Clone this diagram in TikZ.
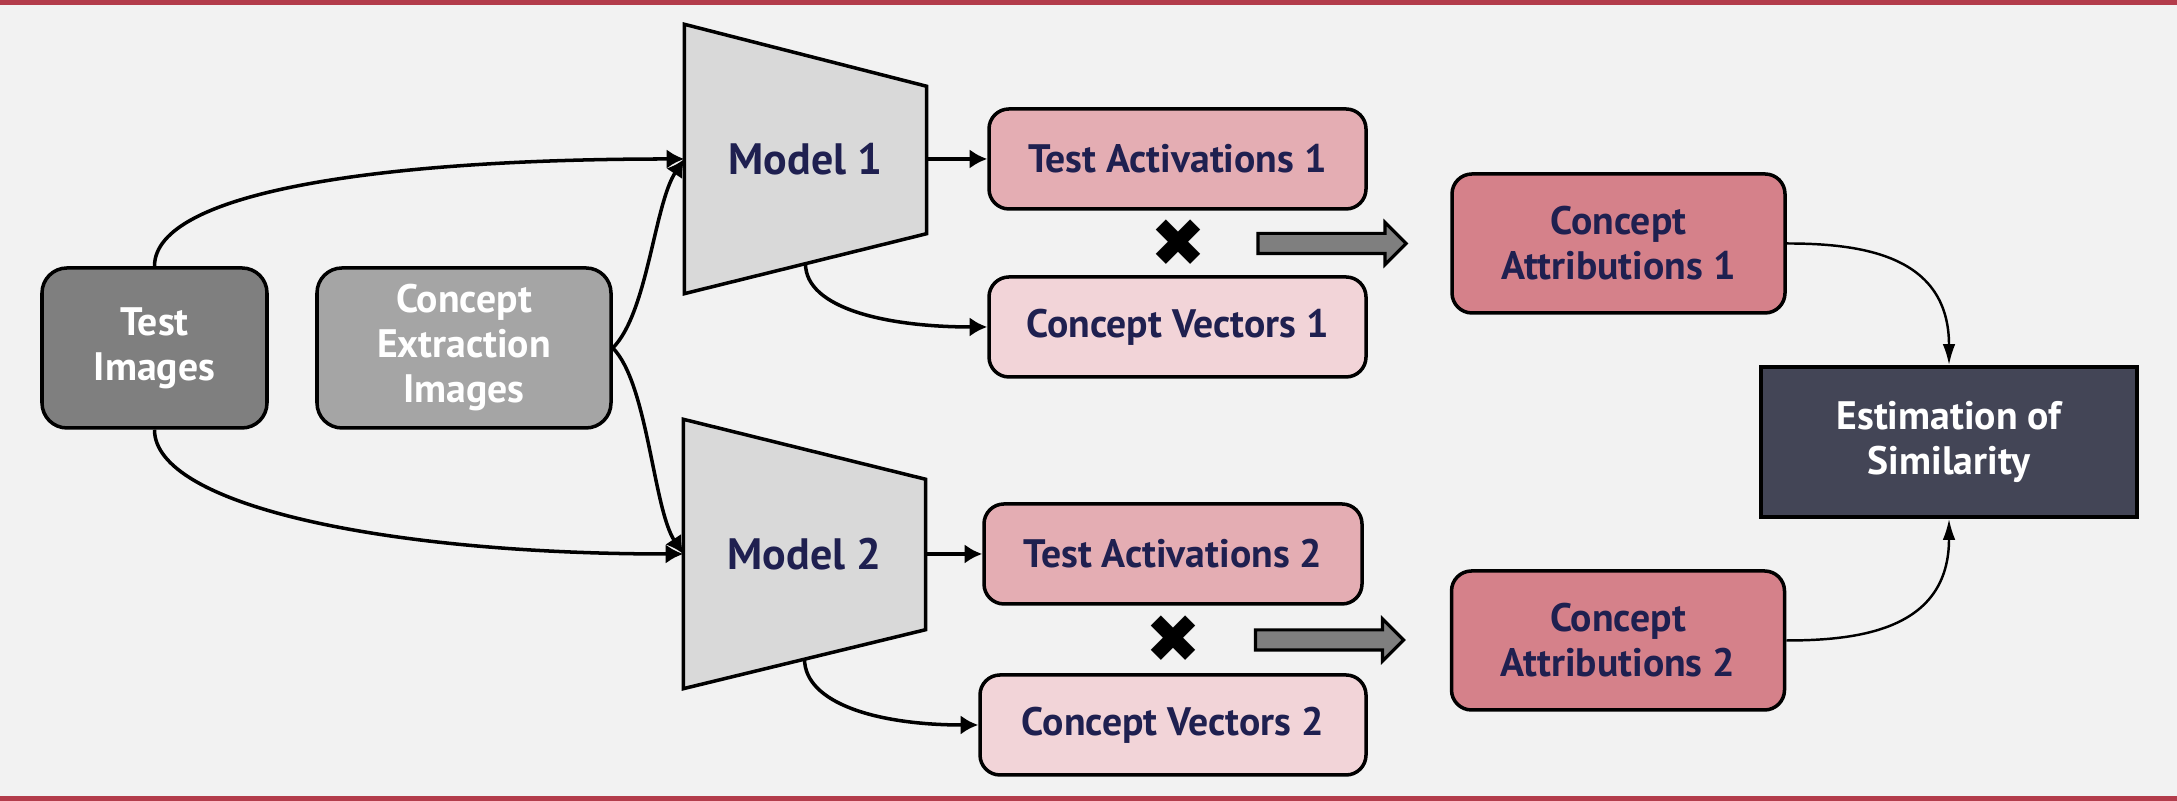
\documentclass[tikz,border=0pt]{standalone}
\usepackage{fontspec}
\setmainfont{PT Sans}
\newfontfamily\symfont{DejaVu Sans}
\usetikzlibrary{shapes.arrows,arrows.meta}

\definecolor{bgcol}{HTML}{F2F2F2}
\definecolor{barred}{HTML}{B33C4B}
\definecolor{testgray}{HTML}{7F7F7F}
\definecolor{extgray}{HTML}{A5A5A5}
\definecolor{modelgray}{HTML}{D9D9D9}
\definecolor{actpink}{HTML}{E4ADB3}
\definecolor{vecpink}{HTML}{F2D4D8}
\definecolor{attrpink}{HTML}{D5818A}
\definecolor{estcol}{HTML}{434556}
\definecolor{navy}{HTML}{1F2050}

\pgfdeclarelayer{background}
\pgfsetlayers{background,main}

\tikzset{
  box/.style={draw,line width=1pt,rounded corners=0.2cm,align=center,
    text=navy,inner sep=0pt,font=\bfseries\fontsize{11.3}{12.8}\selectfont},
  imgbox/.style={box,text=white,minimum height=1.6cm,rounded corners=0.25cm},
  model/.style={inner sep=0pt,minimum width=2.41cm,minimum height=2.68cm,
    text=navy,font=\bfseries\fontsize{12.5}{14}\selectfont},
  link/.style={line width=1pt,-{Latex[length=5pt,width=5.5pt]}},
  thinlink/.style={line width=0.7pt,-{Latex[length=6pt,width=3.6pt]}},
  bigarrow/.style={single arrow,draw,line width=0.9pt,fill=testgray,
    minimum height=1.48cm,single arrow head extend=0.11cm,
    inner xsep=0pt,inner ysep=0.085cm},
  times/.style={inner sep=0pt,font=\symfont\fontsize{19}{19}\selectfont}
}

\begin{document}
\begin{tikzpicture}

\useasboundingbox (0,0) rectangle (21.77,8.01);
\begin{pgfonlayer}{background}
\fill[bgcol] (0,0) rectangle (21.77,8.01);
\end{pgfonlayer}
\fill[barred] (0,7.96) rectangle (21.77,8.01);
\fill[barred] (0,0) rectangle (21.77,0.05);

% Image sets
\node[imgbox,fill=testgray,minimum width=2.25cm]
(test)
at (1.545,4.53)
{Test\\Images};

\node[imgbox,fill=extgray,minimum width=2.94cm]
(extr)
at (4.64,4.53)
{Concept\\Extraction\\Images};

% Models
\node[model]
(m1)
at (8.055,6.42)
{Model 1};

\node[model]
(m2)
at (8.045,2.47)
{Model 2};

\coordinate (m1b) at ([yshift=0.3cm]m1.south);
\coordinate (m2b) at ([yshift=0.3cm]m2.south);

% Activations and concept vectors
\node[box,fill=actpink,minimum width=3.77cm,minimum height=1cm]
(ta1)
at (11.775,6.42)
{Test Activations 1};

\node[box,fill=vecpink,minimum width=3.77cm,minimum height=1cm]
(cv1)
at (11.775,4.74)
{Concept Vectors 1};

\node[box,fill=actpink,minimum width=3.78cm,minimum height=1cm]
(ta2)
at (11.73,2.47)
{Test Activations 2};

\node[box,fill=vecpink,minimum width=3.86cm,minimum height=1cm]
(cv2)
at (11.73,0.76)
{Concept Vectors 2};

\node[times] (x1) at (11.78,5.58) {✖};
\node[times] (x2) at (11.73,1.62) {✖};

\node[bigarrow] (ar1) at (13.27,5.575) {};
\node[bigarrow] (ar2) at (13.245,1.61) {};

% Attributions
\node[box,fill=attrpink,minimum width=3.33cm,minimum height=1.39cm]
(ca1)
at (16.185,5.575)
{Concept\\Attributions 1};

\node[box,fill=attrpink,minimum width=3.33cm,minimum height=1.39cm]
(ca2)
at (16.18,1.605)
{Concept\\Attributions 2};

\node[box,fill=estcol,text=white,rounded corners=0pt,minimum width=3.76cm,minimum height=1.5cm]
(est)
at (19.49,3.59)
{Estimation of\\Similarity};

% Model shapes
\begin{pgfonlayer}{background}
\draw[line width=1pt,fill=modelgray] (m1.north west) -- ([yshift=-0.62cm]m1.north east)
  -- ([yshift=0.6cm]m1.south east) -- (m1.south west) -- cycle;
\draw[line width=1pt,fill=modelgray] (m2.north west) -- ([yshift=-0.6cm]m2.north east)
  -- ([yshift=0.59cm]m2.south east) -- (m2.south west) -- cycle;
\end{pgfonlayer}

\draw[link] (test.north) .. controls +(0,0.75) and +(-3,0) .. (m1.west);
\draw[link] (extr.east) .. controls +(0.35,0.35) and +(-0.3,-0.45) .. (m1.west);
\draw[link] (test.south) .. controls +(0,-0.75) and +(-3,0) .. (m2.west);
\draw[link] (extr.east) .. controls +(0.35,-0.35) and +(-0.3,0.45) .. (m2.west);

\draw[link] (m1.east) -- (ta1.west);
\draw[link] (m2.east) -- (ta2.west);
\draw[link] (m1b) .. controls +(0,-0.45) and +(-1,0) .. (cv1.west);
\draw[link] (m2b) .. controls +(0,-0.45) and +(-1,0) .. (cv2.west);

\draw[thinlink] (ca1.east) .. controls +(0.75,0) and +(0,1.1) .. (est.north);
\draw[thinlink] (ca2.east) .. controls +(0.75,0) and +(0,-1.1) .. (est.south);

\end{tikzpicture}
\end{document}
